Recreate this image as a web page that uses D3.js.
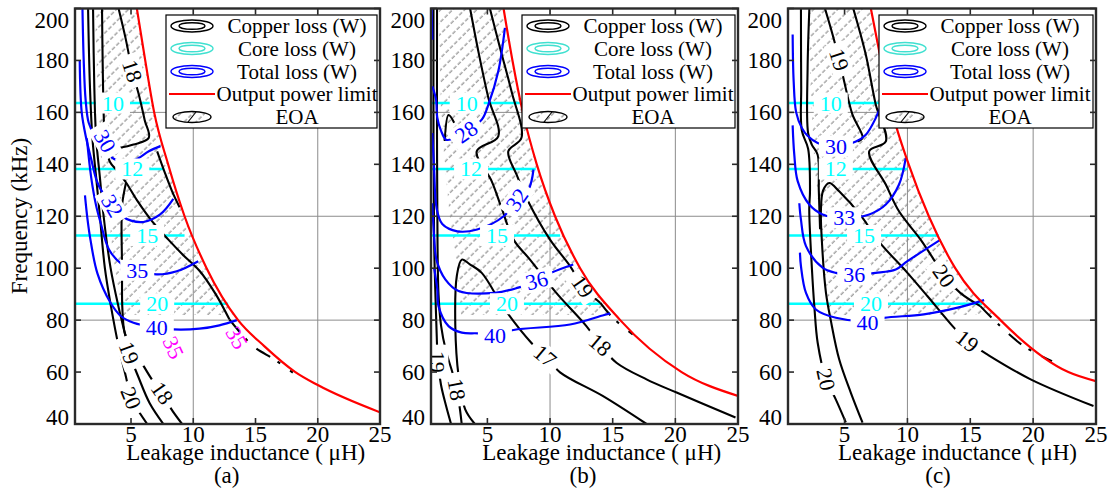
<!DOCTYPE html>
<html><head><meta charset="utf-8">
<script src="https://cdn.jsdelivr.net/npm/d3@7"></script>
<style>body{margin:0;background:#fff}svg{display:block}</style>
</head><body><svg id="c" width="1109" height="490"></svg>
<script>
// ---------- shared axis data ----------
const X_TICKS = [5, 10, 15, 20, 25];
const Y_TICKS = [40, 60, 80, 100, 120, 140, 160, 180, 200];
const X_GRID = [10, 20];
const Y_GRID = [80, 120, 160];
const CORE_LEVELS = ["10", "12", "15", "20"];
const CORE_Y = [163.6, 138.2, 112.6, 86.3];
const EOA_BOTTOM = 82;
const LEGEND_ITEMS = ["Copper loss (W)", "Core loss (W)", "Total loss (W)", "Output power limit", "EOA"];
const PANEL_LETTERS = ["(a)", "(b)", "(c)"];

// ---------- panel (a) ----------
const A_RED_X = [5.47, 6.14, 6.86, 7.98, 9.3, 11.07, 13.6, 15.7, 18.2, 20, 25];
const A_RED_Y = [200, 180, 160, 140, 120, 100, 80, 70, 60, 55, 44.5];
const A_EOA_LEFT = [[2.1,200],[2.3,170],[2.4,160],[2.6,140],[3.2,120],[3.7,100],[4.3,82]];
const A_CORE_END = [6.5, 7.6, 9.3, 12.8];
const A_CORE_LABEL_X = [3.55, 5.1, 6.3, 7.1];
const A_CU_20 = [[1.55,200],[1.7,170],[1.9,150],[2.2,135],[2.5,120],[2.9,100],[3.4,85],[4.0,70],[4.6,58],[5.0,50],[5.6,45],[6.3,40]];
const A_CU_19 = [[1.95,200],[2.05,170],[2.2,150],[2.5,135],[2.8,120],[3.36,100],[4.0,85],[4.5,75],[4.85,67.4],[5.6,58],[6.5,48],[7.6,40]];
const A_CU_18TOP = [[4.0,200],[4.56,188.6],[5.1,176],[5.63,166.8],[6.1,157],[6.43,150.2],[5.2,147.6],[4.03,146.3]];
const A_CU_18LOW = [[4.6,133],[4.3,125],[4.24,117.6],[4.28,100],[4.3,85],[4.5,75],[5.0,70],[5.8,64],[6.7,57],[7.5,52],[8.2,46],[9.1,40]];
const A_CU_MID = [[2.67,200],[2.72,180],[2.8,160],[2.9,150],[3.3,141],[3.9,137.5],[4.6,133],[5.5,126],[6.7,118],[8.0,111],[9.2,105],[10.5,99],[11.8,90],[12.9,80.3]];
const A_CU_TAIL = [[12.9,80.3],[14.8,70],[16.5,64.9],[18,59.8]];
const A_CU_D2 = [[7.1,145],[7.7,137],[8.3,129.6],[8.9,123.5]];
const A_TOT_30 = [[1.1,200],[1.2,180],[1.35,165],[1.6,156],[2.0,152],[2.9,148],[3.5,142.5],[4.3,141.2],[5.36,141.8],[6.43,145],[7.36,147]];
const A_TOT_32 = [[0.88,180],[1.04,160],[1.4,150],[1.8,142],[2.3,133],[3.0,127],[3.6,123.5],[4.3,120],[5.0,118.3],[6.0,117.8],[7.34,120.7],[8.4,126.7]];
const A_TOT_35 = [[1.45,150],[1.8,135],[2.2,124],[2.56,117.5],[3.23,107.2],[4.3,101.4],[5.5,99.2],[7.07,97.6],[8.67,98.8],[10.4,102.7]];
const A_TOT_40 = [[1.3,128],[1.5,119],[1.74,111],[2.3,98],[3.34,86.8],[4.2,81.5],[5.2,79],[7.07,77.1],[8.4,76.4],[10.5,76.7],[12.1,78],[13.5,80]];
const A_LABELS = [["18",5.1,176,72,"cu"],["18",7.5,52,55,"cu"],["19",4.85,67.4,70,"cu"],["20",5.0,50,68,"cu"],
  ["30",2.9,149,60,"tot"],["32",3.5,124,60,"tot"],["35",5.5,99.2,0,"tot"],["40",7.07,77.2,0,"tot"],
  ["35",8.4,69.4,65,"mag"],["35",13.5,73.2,60,"mag"]];

// ---------- panel (b) ----------
const B_RED_X = [6.29, 7.0, 7.83, 8.94, 10.4, 12.4, 15.6, 20.5, 25];
const B_RED_Y = [200, 180, 160, 140, 120, 100, 80, 60, 50.8];
const B_EOA_LEFT = [[1.1,200],[1.2,180],[1.3,160],[1.6,140],[2.0,120],[2.6,100],[2.9,82]];
const B_CORE_END = [7.6, 8.86, 10.8, 14.0];
const B_CORE_LABEL_X = [3.35, 3.7, 5.77, 6.56];
const B_CU_17 = [[4.0,40],[3.23,45.6],[2.7,58.5],[2.44,77.7],[2.56,97],[2.96,103.3],[3.6,101.5],[4.55,98.2],[6.4,84.1],[8.5,71.3],[9.6,66.2],[10.8,59.9],[14.2,50.8],[17.7,40]];
const B_CU_18 = [[3.62,200],[4.3,183],[5.08,165.5],[5.87,150.8],[4.15,145],[5.34,133.5],[6.13,123.2],[7.09,111],[8.4,103.3],[10.5,90.5],[12.9,77.7],[14.0,70.5],[15.3,63.6],[17.7,57.2],[20.1,52.1],[24.8,42.5]];
const B_CU_19 = [[5.2,200],[6.0,185],[6.93,168],[7.72,150.2],[6.67,145],[7.33,136],[8.25,125.8],[10.0,111],[11.6,100.8],[12.6,93],[14.0,86.7]];
const B_CU_19TAIL = [[14.0,86.7],[15.0,80.9],[16.6,74.5]];
const B_CU_L19 = [[0.7,200],[0.7,150],[0.75,110],[0.85,90],[0.95,75],[1.05,64],[1.3,55],[1.7,47],[2.1,40]];
const B_CU_L18 = [[0.98,200],[0.98,150],[1.02,110],[1.1,90],[1.3,78],[1.7,68],[2.2,60],[2.55,53.3],[2.8,46],[2.95,40]];
const B_CU_BIT = [[1.6,149],[1.9,159],[2.35,156]];
const B_TOT_LEFT = [[0.55,200],[0.6,188]];
const B_TOT_28 = [[0.6,170],[0.9,165],[1.0,158],[1.3,153],[1.7,149.5],[2.4,150],[3.3,152.5],[4.55,157.2],[5.08,163],[5.87,175.8],[6.4,192.5]];
const B_TOT_32 = [[0.6,152],[0.75,138],[0.95,123],[1.4,117],[2.6,114.2],[4.18,114.9],[6.3,120],[7.36,126.4],[8.28,130.3],[8.68,138]];
const B_TOT_36 = [[0.6,125],[0.75,112],[0.95,103],[1.64,95.7],[2.7,91.2],[5.6,90.5],[7.46,92.5],[8.94,95],[10.1,98.2],[11.85,101.4]];
const B_TOT_40 = [[0.75,100],[1.0,92],[1.1,85.4],[1.9,77.7],[2.96,75.2],[4.29,74.9],[5.6,74.2],[7.09,76.2],[11.6,78.3],[14.2,81.8],[14.8,82.6]];
const B_LABELS = [["28",3.3,152.5,-35,"tot"],["32",7.36,126.4,-55,"tot"],["36",8.94,95.3,-15,"tot"],["40",5.6,74,0,"tot"],
  ["17",9.6,66.2,40,"cu"],["18",14.0,70.5,40,"cu"],["19",12.6,93,55,"cu"],["18",2.55,53.3,80,"cu"],["19",1.05,64,90,"cu"]];

// ---------- panel (c) ----------
const C_RED_X = [7.09, 7.9, 8.8, 10.1, 11.7, 13.8, 17.4, 22.8, 25];
const C_RED_Y = [200, 180, 160, 140, 120, 100, 80, 60, 56.5];
const C_EOA_LEFT = [[2.1,200],[2.3,170],[2.4,160],[2.6,140],[3.0,120],[3.4,100],[3.8,82]];
const C_CORE_END = [8.28, 10.0, 12.5, 15.95];
const C_CORE_LABEL_X = [3.9, 4.3, 6.55, 7.1];
const C_CU_19LOOP = [[6.43,40.5],[5.5,52],[4.57,64.9],[3.9,80],[3.52,90.5],[3.2,110],[3.12,122.5],[3.3,130],[3.78,132.8],[4.57,129.6],[6.43,119.4],[7.6,111],[10.0,98.2],[11.6,89.2],[13.7,77.1],[14.76,71.9],[16.35,66.8],[19.8,57.2],[24.8,46.9]];
const C_CU_19TOP = [[3.38,201],[4.05,189.9],[4.57,180.3],[4.97,171.9],[5.63,159.1],[6.43,150.2],[6.03,148.8]];
const C_CU_20TOP = [[5.63,201],[6.69,182.2],[7.48,163],[8.28,148.8],[6.96,145],[8.28,132.2],[9.33,121.9],[11.05,111],[12.1,103.3],[12.9,97],[14.2,90.5],[15.8,85.4]];
const C_CU_20TAIL = [[15.8,85.4],[17.1,79],[19.25,70],[21.5,64.2]];
const C_CU_20LEFT = [[1.53,200],[1.55,170],[1.6,153],[2.1,146],[2.25,130],[2.19,122.5],[2.4,100],[2.6,85],[2.86,71.3],[3.52,57.2],[4.3,49.5],[5.1,40.6]];
const C_CU_L2 = [[2.2,200],[2.06,177],[2.1,152],[2.4,147.5],[2.86,143.7],[2.95,130],[3.05,115]];
const C_TOT_30 = [[0.87,190],[0.95,172],[1.15,160],[1.6,154],[2.06,151],[2.86,148.2],[4.31,147],[5.9,148.8],[6.69,151.4],[7.48,157.8],[8.0,164.2],[8.28,171.9]];
const C_TOT_33 = [[0.87,155],[1.0,143.7],[1.27,133.5],[2.19,124.5],[3.25,120.7],[4.97,119.4],[6.96,120.7],[8.28,124.5],[9.33,132.2],[9.87,142.5]];
const C_TOT_36 = [[1.4,125],[1.53,118.7],[1.93,108.5],[3.25,100.2],[4.31,98.2],[5.77,97.6],[7.48,98.2],[9.07,99.5],[10.0,102.7],[12.64,111]];
const C_TOT_40 = [[1.45,106],[1.53,100.8],[1.93,90.5],[2.72,84.1],[4.31,80.9],[6.83,79.6],[8.14,80.9],[11.3,82.2],[14,84.8],[16.1,87.7]];
const C_LABELS = [["19",4.57,180.3,72,"cu"],["20",12.9,97,55,"cu"],["19",14.76,71.9,38,"cu"],["20",3.52,57.2,78,"cu"],
  ["30",4.31,147,0,"tot"],["33",4.97,119.4,0,"tot"],["36",5.77,97.6,0,"tot"],["40",6.83,79,0,"tot"]];

// ---------- drawing ----------
const FONT = "'Liberation Serif','Times New Roman',Times,serif";
const TOP = 8.5, BOTTOM = 424;
const COL = {cu:"#000", tot:"#0000ff", core:"#00ffff", red:"#ff0000", mag:"#ff00ff"};
const svg = d3.select("#c").attr("font-family", FONT);
const defs = svg.append("defs");
const pat = defs.append("pattern").attr("id","hatch").attr("patternUnits","userSpaceOnUse")
  .attr("width",8.5).attr("height",6).attr("patternTransform","rotate(45)");
pat.append("rect").attr("width",8.5).attr("height",6).attr("fill","#fff");
pat.append("line").attr("x1",4).attr("y1",0).attr("x2",4).attr("y2",6)
  .attr("stroke","#a4a4a4").attr("stroke-width",1.5).attr("stroke-dasharray","4,2");

const PANELS = [
  {left:75, right:380, redX:A_RED_X, redY:A_RED_Y, eoa:A_EOA_LEFT, coreEnd:A_CORE_END, coreLab:A_CORE_LABEL_X,
   cu:[A_CU_20,A_CU_19,A_CU_18TOP,A_CU_18LOW,A_CU_MID,A_CU_D2], cuDash:[A_CU_TAIL],
   tot:[A_TOT_30,A_TOT_32,A_TOT_35,A_TOT_40], labels:A_LABELS, xlabelX:245.7, letterX:226.7},
  {left:431, right:738, redX:B_RED_X, redY:B_RED_Y, eoa:B_EOA_LEFT, coreEnd:B_CORE_END, coreLab:B_CORE_LABEL_X,
   cu:[B_CU_17,B_CU_18,B_CU_19,B_CU_L19,B_CU_L18,B_CU_BIT], cuDash:[B_CU_19TAIL],
   tot:[B_TOT_LEFT,B_TOT_28,B_TOT_32,B_TOT_36,B_TOT_40], labels:B_LABELS, xlabelX:601.7, letterX:583},
  {left:788, right:1096, redX:C_RED_X, redY:C_RED_Y, eoa:C_EOA_LEFT, coreEnd:C_CORE_END, coreLab:C_CORE_LABEL_X,
   cu:[C_CU_19LOOP,C_CU_19TOP,C_CU_20TOP,C_CU_20LEFT,C_CU_L2], cuDash:[C_CU_20TAIL],
   tot:[C_TOT_30,C_TOT_33,C_TOT_36,C_TOT_40], labels:C_LABELS, xlabelX:957.5, letterX:938}
];

function addLabel(g, s, px, py, rot, color, box){
  const lg = g.append("g").attr("transform",`translate(${px},${py}) rotate(${rot})`);
  const r = lg.append("rect").attr("fill","#fff");
  const t = lg.append("text").attr("text-anchor","middle").attr("dominant-baseline","central")
    .attr("font-family",FONT).attr("font-size",22).attr("fill",color).text(s);
  if(box){
    const bb = t.node().getBBox();
    r.attr("x",bb.x-6).attr("y",bb.y+2).attr("width",bb.width+12).attr("height",bb.height-4);
  } else r.remove();
}
function txt(sel, s, size){ return sel.append("text").attr("font-family",FONT).attr("font-size",size||23).attr("fill","#000").text(s); }

PANELS.forEach((p,i)=>{
  const x = d3.scaleLinear().domain([0.5,25]).range([p.left,p.right]);
  const y = d3.scaleLinear().domain([40,200]).range([BOTTOM,TOP]);
  const line = d3.line().x(d=>x(d[0])).y(d=>y(d[1])).curve(d3.curveCatmullRom.alpha(0.5));
  const redLine = d3.line().x(d=>x(d[0])).y(d=>y(d[1])).curve(d3.curveMonotoneX);
  const redPts = p.redX.map((v,k)=>[v,p.redY[k]]);

  defs.append("clipPath").attr("id","plot"+i).append("rect")
    .attr("x",p.left).attr("y",TOP).attr("width",p.right-p.left).attr("height",BOTTOM-TOP);
  defs.append("clipPath").attr("id","under"+i).append("path")
    .attr("d", redLine(redPts)+`L${x(26)},${y(30)}L${x(0)},${y(30)}L${x(0)},${y(210)}L${x(p.redX[0])},${y(210)}Z`);

  const g = svg.append("g").attr("clip-path",`url(#plot${i})`);
  const eoaPoly = p.eoa.concat([[30,EOA_BOTTOM],[30,210],[p.eoa[0][0],210]]);
  g.append("g").attr("clip-path",`url(#under${i})`).append("path")
    .attr("d", d3.line().x(d=>x(d[0])).y(d=>y(d[1]))(eoaPoly)+"Z").attr("fill","url(#hatch)");
  X_GRID.forEach(v=>g.append("line").attr("x1",x(v)).attr("x2",x(v)).attr("y1",TOP).attr("y2",BOTTOM)
    .attr("stroke","#8c8c8c").attr("stroke-width",1));
  Y_GRID.forEach(v=>g.append("line").attr("x1",p.left).attr("x2",p.right).attr("y1",y(v)).attr("y2",y(v))
    .attr("stroke","#8c8c8c").attr("stroke-width",1));
  CORE_Y.forEach((v,k)=>g.append("path").attr("d",line([[0.5,v],[p.coreEnd[k],v]]))
    .attr("fill","none").attr("stroke",COL.core).attr("stroke-width",2.6));
  p.cu.forEach(c=>g.append("path").attr("d",line(c)).attr("fill","none").attr("stroke",COL.cu).attr("stroke-width",2.1));
  p.cuDash.forEach(c=>g.append("path").attr("d",line(c)).attr("fill","none").attr("stroke",COL.cu)
    .attr("stroke-width",2.1).attr("stroke-dasharray","16,9,3,12"));
  p.tot.forEach(c=>g.append("path").attr("d",line(c)).attr("fill","none").attr("stroke",COL.tot).attr("stroke-width",2.2));
  CORE_LEVELS.forEach((t,k)=>addLabel(g,t,x(p.coreLab[k]),y(CORE_Y[k]),0,COL.core,true));
  p.labels.forEach(l=>addLabel(g,l[0],x(l[1]),y(l[2]),l[3],COL[l[4]],l[4]!=="mag"));
  g.append("path").attr("d",redLine(redPts)).attr("fill","none").attr("stroke",COL.red).attr("stroke-width",2.2);

  // legend
  const lx = p.left+91, rx = p.right-3, ty = 15, by = 128;
  const lg = svg.append("g");
  lg.append("rect").attr("x",lx).attr("y",ty).attr("width",rx-lx).attr("height",by-ty)
    .attr("fill","#fff").attr("stroke","#000").attr("stroke-width",1.2);
  const rows = [26,48.5,71.5,94,117];
  const ix = lx+26;
  ["#000","#40e0d0","#0000ff"].forEach((c,k)=>{
    lg.append("ellipse").attr("cx",ix).attr("cy",rows[k]).attr("rx",21).attr("ry",6).attr("fill","none").attr("stroke",c).attr("stroke-width",1.4);
    lg.append("ellipse").attr("cx",ix).attr("cy",rows[k]).attr("rx",13).attr("ry",3.3).attr("fill","none").attr("stroke",c).attr("stroke-width",1.4);
  });
  lg.append("line").attr("x1",ix-23).attr("x2",ix+23).attr("y1",rows[3]).attr("y2",rows[3]).attr("stroke",COL.red).attr("stroke-width",2);
  lg.append("ellipse").attr("cx",ix).attr("cy",rows[4]).attr("rx",19).attr("ry",5.5).attr("fill","url(#hatch)").attr("stroke","#000").attr("stroke-width",1.4);
  lg.append("line").attr("x1",ix-4).attr("x2",ix+4).attr("y1",rows[4]+5).attr("y2",rows[4]-5).attr("stroke","#000").attr("stroke-width",1.2);
  LEGEND_ITEMS.forEach((t,k)=>txt(lg,t,21).attr("x",lx+131).attr("y",rows[k]).attr("text-anchor","middle").attr("dominant-baseline","central"));

  // frame + ticks
  const fg = svg.append("g").attr("stroke","#2a2a2a");
  fg.append("rect").attr("x",p.left).attr("y",TOP).attr("width",p.right-p.left).attr("height",BOTTOM-TOP)
    .attr("fill","none").attr("stroke-width",2.4);
  X_TICKS.forEach(v=>{
    fg.append("line").attr("x1",x(v)).attr("x2",x(v)).attr("y1",BOTTOM).attr("y2",BOTTOM-6).attr("stroke-width",1.6);
    fg.append("line").attr("x1",x(v)).attr("x2",x(v)).attr("y1",TOP).attr("y2",TOP+6).attr("stroke-width",1.6);
    txt(svg,v).attr("x",x(v)).attr("y",442).attr("text-anchor","middle");
  });
  Y_TICKS.forEach(v=>{
    fg.append("line").attr("x1",p.left).attr("x2",p.left+6).attr("y1",y(v)).attr("y2",y(v)).attr("stroke-width",1.6);
    fg.append("line").attr("x1",p.right).attr("x2",p.right-6).attr("y1",y(v)).attr("y2",y(v)).attr("stroke-width",1.6);
    const cy = Math.min(Math.max(y(v),20),417);
    txt(svg,v).attr("x",p.left-6).attr("y",cy).attr("text-anchor","end").attr("dominant-baseline","central");
  });
  txt(svg,"Leakage inductance ( \u03bcH)").attr("x",p.xlabelX).attr("y",460).attr("text-anchor","middle");
  txt(svg,PANEL_LETTERS[i]).attr("x",p.letterX).attr("y",483).attr("text-anchor","middle");
});
txt(svg,"Frequency (kHz)").attr("transform","translate(19,216) rotate(-90)").attr("text-anchor","middle")
  .attr("dominant-baseline","central");
</script></body></html>
